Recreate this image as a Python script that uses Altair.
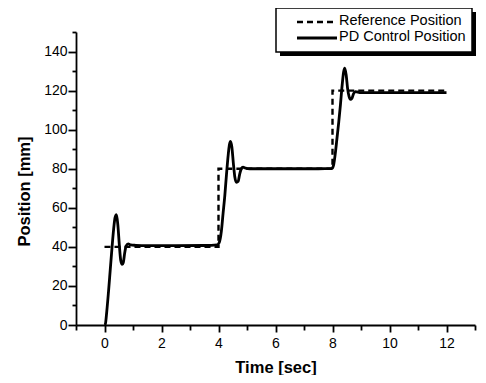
import altair as alt
import pandas as pd

# Reference position (step input)
ref_t = [0, 4, 4, 8, 8, 12]
ref_y = [40, 40, 80, 80, 120, 120]

# PD control response
ctrl_t = [0.00, 0.03, 0.08, 0.14, 0.20, 0.26, 0.32, 0.37, 0.42, 0.47, 0.52, 0.57,
          0.62, 0.66, 0.71, 0.76, 0.83, 0.92, 1.10, 1.50, 2.5, 3.5, 3.95, 4.02,
          4.10, 4.16, 4.22, 4.28, 4.34, 4.38, 4.42, 4.47, 4.52, 4.57, 4.63, 4.69,
          4.74, 4.80, 4.86, 4.95, 5.10, 5.5, 6.5, 7.5, 7.98, 8.04, 8.10, 8.16,
          8.22, 8.28, 8.34, 8.39, 8.43, 8.48, 8.53, 8.58, 8.63, 8.68, 8.74, 8.80,
          8.86, 8.95, 9.2, 10, 11, 12]
ctrl_y = [0, 0.5, 7, 17, 28, 39, 49, 55, 56.5, 51, 41, 33,
          31, 32, 37, 40.5, 41.5, 41, 40.8, 40.6, 40.6, 40.7, 41, 42,
          48, 57, 66, 77, 87, 92, 94, 91, 83, 76, 73, 73.5,
          77, 80, 80.8, 80.3, 80, 80, 80, 80, 80.2, 82, 88, 96,
          104, 113, 123, 129.5, 131.5, 128, 121, 117, 115.5, 116, 118.5, 119.5,
          119.3, 119, 119, 119, 119, 119]

x_major = [0, 2, 4, 6, 8, 10, 12]
x_minor = [-1, 1, 3, 5, 7, 9, 11, 13]
y_major = [0, 20, 40, 60, 80, 100, 120, 140]
y_minor = [10, 30, 50, 70, 90, 110, 130, 150]

legend_labels = ["Reference Position", "PD Control Position"]

ref_df = pd.DataFrame({"t": ref_t, "y": ref_y, "i": list(range(len(ref_t)))})
ctrl_df = pd.DataFrame({"t": ctrl_t, "y": ctrl_y, "i": list(range(len(ctrl_t)))})
one = pd.DataFrame({"a": [0]})

FONT = "Liberation Sans"
common = dict(grid=False, domainColor="black", domainWidth=1.8, tickColor="black",
              tickWidth=1.8, labelColor="black", titleColor="black", labelOverlap=False)

x_axis = alt.Axis(
    values=x_major, tickSize=7, orient="bottom",
    title="Time [sec]", titleFontSize=16.5, titleFontWeight="bold", titlePadding=9,
    labelFontSize=14, labelPadding=4, **common,
)
y_axis = alt.Axis(
    values=y_major, tickSize=8, orient="left",
    title="Position [mm]", titleFontSize=16.5, titleFontWeight="bold",
    titleAngle=270, titleBaseline="bottom", titleAlign="center",
    titleX=-44, titleY=159,
    labelFontSize=14, labelPadding=1, **common,
)
x_axis_minor = alt.Axis(values=x_minor, tickSize=5, orient="bottom", labels=False,
                        domain=False, title=None, grid=False, tickColor="black", tickWidth=1.8)
y_axis_minor = alt.Axis(values=y_minor, tickSize=4, orient="left", labels=False,
                        domain=False, title=None, grid=False, tickColor="black", tickWidth=1.8)

xs = alt.Scale(domain=[-1, 13], nice=False, zero=False)
ys = alt.Scale(domain=[0, 150], nice=False)

minor = alt.Chart(ctrl_df).mark_point(opacity=0).encode(
    x=alt.X("t:Q", scale=xs, axis=x_axis_minor),
    y=alt.Y("y:Q", scale=ys, axis=y_axis_minor),
)

ctrl = alt.Chart(ctrl_df).mark_line(
    color="black", strokeWidth=2.8, interpolate="monotone"
).encode(
    x=alt.X("t:Q", scale=xs, axis=x_axis),
    y=alt.Y("y:Q", scale=ys, axis=y_axis),
    order="i:Q",
)

ref = alt.Chart(ref_df).mark_line(
    color="black", strokeWidth=2.4, strokeDash=[6, 4]
).encode(
    x=alt.X("t:Q", scale=xs, axis=None),
    y=alt.Y("y:Q", scale=ys, axis=None),
    order="i:Q",
)

# legend box with drop shadow
shadow = alt.Chart(one).mark_rect(fill="black").encode(
    x=alt.value(204), x2=alt.value(400), y=alt.value(-20), y2=alt.value(24)
)
box = alt.Chart(one).mark_rect(fill="white", stroke="black", strokeWidth=1.5).encode(
    x=alt.value(200), x2=alt.value(396), y=alt.value(-24), y2=alt.value(20)
)
leg_ref = alt.Chart(one).mark_rule(color="black", strokeWidth=2.4, strokeDash=[6, 4]).encode(
    x=alt.value(221), x2=alt.value(261), y=alt.value(-10)
)
leg_ctrl = alt.Chart(one).mark_rule(color="black", strokeWidth=2.8).encode(
    x=alt.value(221), x2=alt.value(261), y=alt.value(6)
)
leg_t1 = alt.Chart(one).mark_text(
    text=legend_labels[0], align="left", baseline="middle", font=FONT, fontSize=14.5, color="black"
).encode(x=alt.value(263), y=alt.value(-11))
leg_t2 = alt.Chart(one).mark_text(
    text=legend_labels[1], align="left", baseline="middle", font=FONT, fontSize=14.5, color="black"
).encode(x=alt.value(263), y=alt.value(5))

chart = alt.layer(minor, ctrl, ref, shadow, box, leg_ref, leg_ctrl, leg_t1, leg_t2).resolve_axis(
    x="independent", y="independent"
).properties(
    width=399, height=293,
    autosize=alt.AutoSizeParams(type="none"),
    padding={"left": 68, "top": 24, "right": 2, "bottom": 50},
    background="white",
).configure_view(stroke=None).configure_axis(
    labelFont=FONT, titleFont=FONT
)

chart.save("out.html", embed_options={"renderer": "svg", "actions": False})
